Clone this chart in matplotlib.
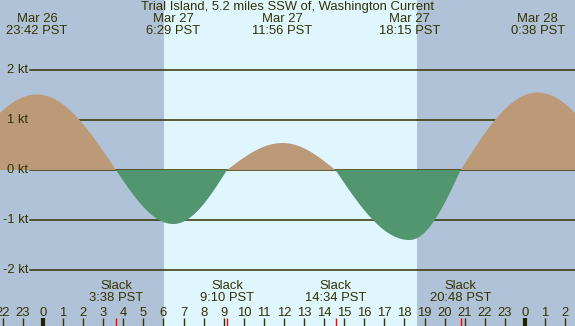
import numpy as np
import matplotlib
matplotlib.use("Agg")
import matplotlib.pyplot as plt
from matplotlib.transforms import blended_transform_factory

# ---- data (hours relative to Mar 27 00:00 PST) ----
event_hours = [-4.35, -0.30, 3.633, 6.483, 9.167, 11.933, 14.567, 18.25, 20.80, 24.633, 28.55]
event_values = [0.0, 1.51, 0.0, -1.08, 0.0, 0.54, 0.0, -1.40, 0.0, 1.55, 0.0]

extreme_labels = ["Mar 26\n23:42 PST", "Mar 27\n6:29 PST", "Mar 27\n11:56 PST",
                  "Mar 27\n18:15 PST", "Mar 28\n0:38 PST"]
extreme_hours = [-0.30, 6.483, 11.933, 18.25, 24.633]

slack_labels = ["Slack\n3:38 PST", "Slack\n9:10 PST", "Slack\n14:34 PST", "Slack\n20:48 PST"]
slack_hours = [3.633, 9.167, 14.567, 20.80]

hour_ticks = list(range(-2, 27))
hour_labels = [str(h % 24) for h in hour_ticks]
kt_levels = [-2, -1, 0, 1, 2]
kt_labels = ["-2 kt", "-1 kt", "0 kt", "1 kt", "2 kt"]

daylight = (6.03, 18.63)
title = "Trial Island, 5.2 miles SSW of, Washington Current"

# ---- styling ----
NIGHT = "#B0C2D7"
DAY = "#DFF6FF"
FLOOD = "#BC9A78"
EBB = "#529670"
INK = "#333300"

plt.rcParams['font.family'] = ['Liberation Sans', 'DejaVu Sans']
fs = 9.4

fig = plt.figure(figsize=(5.75, 3.26), dpi=100)
ax = fig.add_axes([0, 0, 1, 1])
x0, x1 = -2.141, 26.494
ax.set_xlim(x0, x1)
ax.set_ylim(-3.12, 3.4)
ax.axis('off')

ax.axvspan(x0, daylight[0], color=NIGHT, lw=0, zorder=0)
ax.axvspan(daylight[0], daylight[1], color=DAY, lw=0, zorder=0)
ax.axvspan(daylight[1], x1, color=NIGHT, lw=0, zorder=0)

# curve: cosine-shaped segments between consecutive events
t = []
v = []
for i in range(len(event_hours) - 1):
    ta, tb = event_hours[i], event_hours[i + 1]
    va, vb = event_values[i], event_values[i + 1]
    s = np.linspace(0, 1, 80)
    if va == 0:
        seg = vb * np.sin(s * np.pi / 2)
    else:
        seg = va * np.cos(s * np.pi / 2)
    t.extend(ta + (tb - ta) * s)
    v.extend(seg)
t = np.array(t)
v = np.array(v)

# grid lines
trans_x = blended_transform_factory(fig.transFigure, ax.transData)
for k, lab in zip(kt_levels, kt_labels):
    ax.plot([30 / 575, 1], [k, k], color=INK, lw=1.1, transform=trans_x, zorder=1)
    ax.text(28 / 575, k, lab, transform=trans_x, ha='right', va='center',
            fontsize=fs, color=INK, zorder=5)

ax.fill_between(t, 0, v, where=v >= 0, color=FLOOD, lw=0, zorder=2, interpolate=True)
ax.fill_between(t, 0, v, where=v <= 0, color=EBB, lw=0, zorder=2, interpolate=True)

# title and extreme labels
trans_y = blended_transform_factory(ax.transData, fig.transFigure)
ax.text(0.5, 1 - 7 / 326, title, transform=fig.transFigure, ha='center', va='center',
        fontsize=fs, color=INK, zorder=5)
for h, lab in zip(extreme_hours, extreme_labels):
    ax.text(h, 1 - 25.5 / 326, lab, transform=trans_y, ha='center', va='center',
            fontsize=fs, color=INK, linespacing=1.0, zorder=5)

for h, lab in zip(slack_hours, slack_labels):
    ax.text(h, 1 - 292 / 326, lab, transform=trans_y, ha='center', va='center',
            fontsize=fs, color=INK, linespacing=0.95, zorder=5)

# hour ticks and labels
for h, lab in zip(hour_ticks, hour_labels):
    ax.text(h, 1 - 312.5 / 326, lab, transform=trans_y, ha='center', va='center',
            fontsize=fs, color=INK, zorder=5)
    lw = 3 if h % 24 == 0 else 1
    ax.plot([h, h], [0, 8 / 326], transform=trans_y, color=INK if h % 24 else "#222200",
            lw=lw, solid_capstyle='butt', zorder=5)
for h in slack_hours:
    ax.plot([h, h], [0, 8 / 326], transform=trans_y, color="red", lw=1,
            solid_capstyle='butt', zorder=6)

fig.savefig("out.png", dpi=100)
